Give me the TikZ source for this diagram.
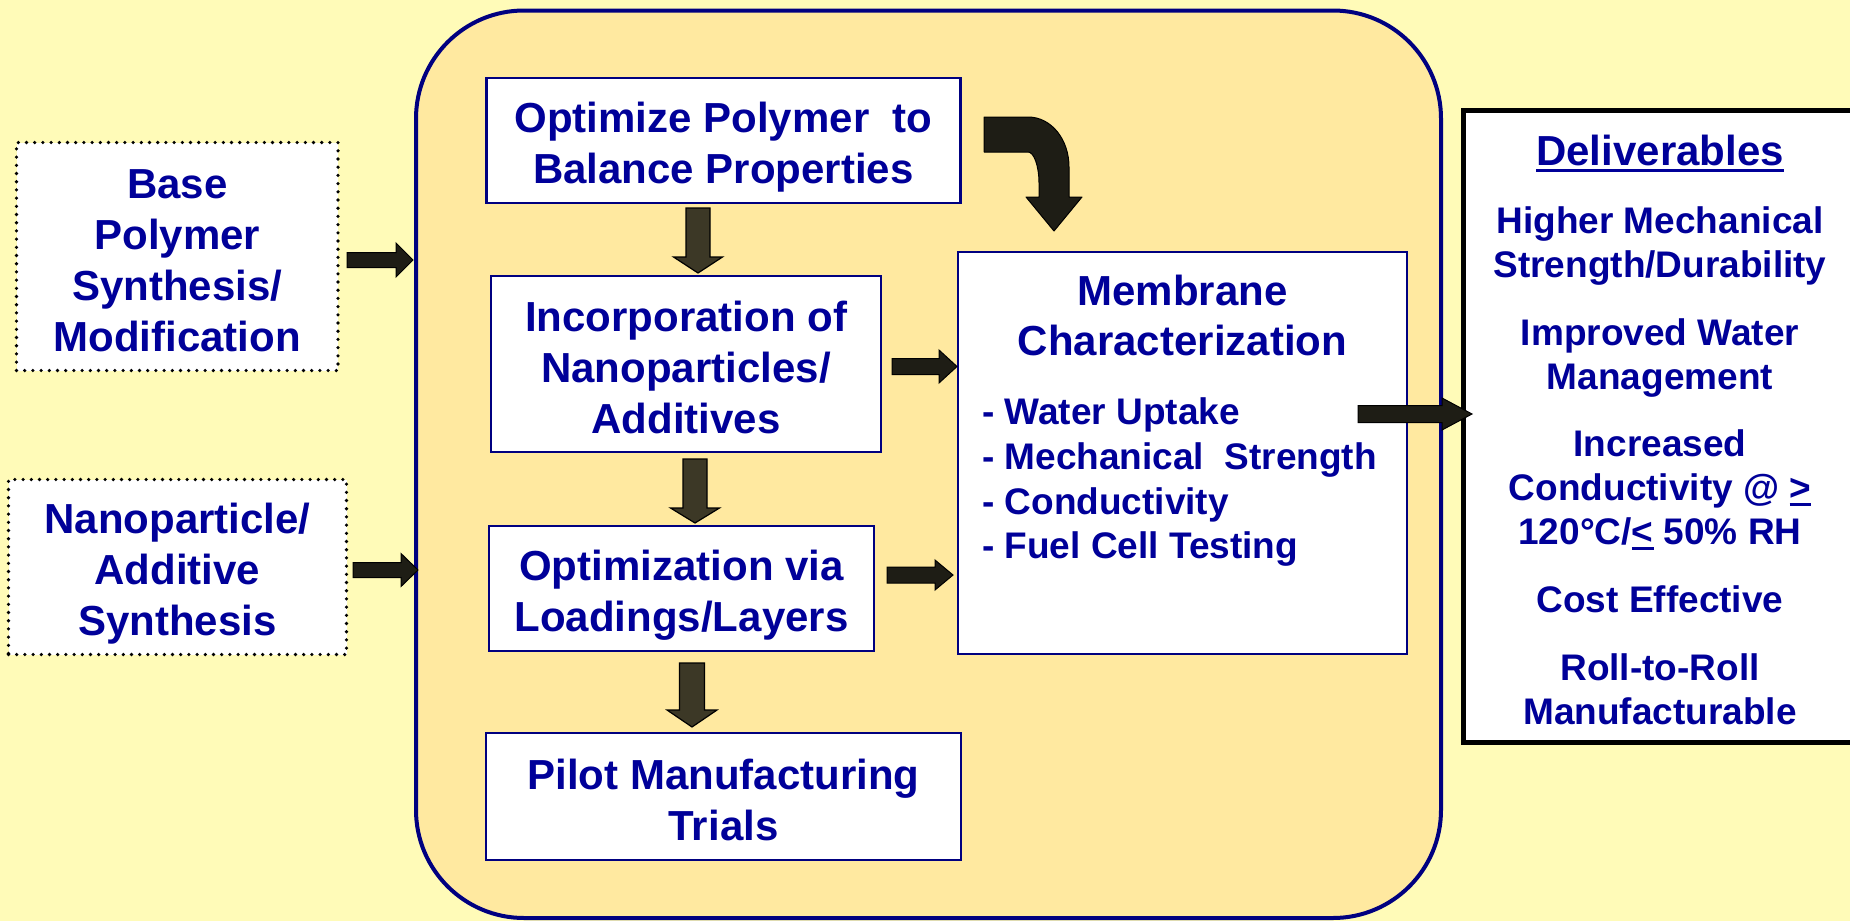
\documentclass[tikz,border=0pt]{standalone}
\usepackage{fontspec}
\setmainfont{Liberation Sans}
\usetikzlibrary{calc}
\definecolor{bgout}{HTML}{FFFBB8}
\definecolor{bgin}{HTML}{FFE9A0}
\definecolor{txt}{HTML}{000099}
\definecolor{boxnavy}{HTML}{000080}
\definecolor{arrowdark}{HTML}{1E1D15}
\definecolor{arrowolive}{HTML}{3C3826}
\newcommand\sA{\rule[-7.5pt]{0pt}{51pt}}
\newcommand\sB{\rule[-10pt]{0pt}{44pt}}
\newcommand\sC{\rule[-10.7pt]{0pt}{44.7pt}}
\newcommand\sT{\rule[-10pt]{0pt}{50pt}}
\newcommand\tightls{\lineskiplimit=-100pt\relax}
\newcommand\ulA[1]{\leavevmode\vtop{\hbox{#1}\kern3pt\hrule height 3.5pt}}
\newcommand\ulB[1]{\leavevmode\vtop{\hbox{#1}\kern2.5pt\hrule height 3pt}}
% horizontal block arrow: start, end, shaft half, head half, head length, style
\newcommand\hblock[6]{%
  \draw[#6] let \p1=(#1), \p2=(#2) in
  (\x1,\y1+#3pt) -- (\x2-#5pt,\y1+#3pt) -- (\x2-#5pt,\y1+#4pt) -- (\x2,\y1)
  -- (\x2-#5pt,\y1-#4pt) -- (\x2-#5pt,\y1-#3pt) -- (\x1,\y1-#3pt) -- cycle;}
% vertical (downward) block arrow
\newcommand\vblock[6]{%
  \draw[#6] let \p1=(#1), \p2=(#2) in
  (\x1-#3pt,\y1) -- (\x1-#3pt,\y2+#5pt) -- (\x1-#4pt,\y2+#5pt) -- (\x1,\y2)
  -- (\x1+#4pt,\y2+#5pt) -- (\x1+#3pt,\y2+#5pt) -- (\x1+#3pt,\y1) -- cycle;}
\tikzset{
  mainfont/.style={font=\fontsize{42}{51}\selectfont\bfseries\tightls},
  flowbox/.style={draw=boxnavy, line width=2.5pt, fill=white, inner sep=0pt,
    align=center, text=txt, mainfont},
  dotbox/.style={draw=black, fill=white, line width=3.6pt, dash pattern=on 0pt off 8.2pt,
    line cap=round, inner sep=0pt, align=center, text=txt, mainfont},
  hdark/.style={fill=arrowdark, draw=black, line width=1pt},
  volive/.style={fill=arrowolive, draw=black, line width=1.2pt},
  deltext/.style={text=txt, inner sep=0pt, align=center, anchor=north,
    font=\fontsize{37}{44}\selectfont\bfseries},
}
\begin{document}
\begin{tikzpicture}[x=1pt,y=-1pt]
\useasboundingbox (0,0) rectangle (1850,921);
\clip (0,0) rectangle (1850,921);
\fill[bgout] (0,0) rectangle (1850,921);

% container
\node[draw=boxnavy, line width=4pt, fill=bgin, rounded corners=108pt,
  minimum width=1025pt, minimum height=907.5pt, inner sep=0pt] (big) at (928.5,464.25) {};

% deliverables box
\node[draw=black, line width=4.5pt, fill=white, inner sep=0pt,
  minimum width=406.5pt, minimum height=632pt] (deliv) at (1666.75,426.5) {};
\node[deltext, font=\fontsize{42}{50}\selectfont\bfseries] (dh) at (1660,125) {\sT\ulA{Deliverables}};
\node[deltext] (g1) at (1660,199) {\sB Higher Mechanical\\\sB Strength/Durability};
\node[deltext] (g2) at (1660,311) {\sB Improved Water\\\sB Management};
\node[deltext] (g3) at (1660,422) {\sB Increased\\\sB Conductivity @ \ulB{>}\\\sB 120°C/\ulB{<} 50\% RH};
\node[deltext] (g4) at (1660,578) {\sB Cost Effective};
\node[deltext] (g5) at (1660,646) {\sB Roll-to-Roll\\\sB Manufacturable};

% left inputs
\node[dotbox, minimum width=321.5pt, minimum height=228pt] (base) at (177.25,256.5)
  {\sA Base\\\sA Polymer\\\sA Synthesis/\\\sA Modification};
\node[dotbox, minimum width=338pt, minimum height=175pt] (nano) at (177.5,567)
  {\sA Nanoparticle/\\\sA Additive\\\sA Synthesis};

% inner flow boxes
\node[flowbox, minimum width=474pt, minimum height=125pt] (opt) at (723.5,140.5)
  {\sA Optimize Polymer\ \ to\\\sA Balance Properties};
\node[flowbox, minimum width=390pt, minimum height=176pt] (inc) at (686,364)
  {\sA Incorporation of\\\sA Nanoparticles/\\\sA Additives};
\node[flowbox, minimum width=385pt, minimum height=125pt] (optim) at (681.5,588.5)
  {\sA Optimization via\\\sA Loadings/Layers};
\node[flowbox, minimum width=475pt, minimum height=127pt] (pilot) at (723.5,796.5)
  {\sA Pilot Manufacturing\\\sA Trials};

% membrane characterization
\node[flowbox, minimum width=449pt, minimum height=402pt] (memb) at (1182.5,453) {};
\node[text=txt, inner sep=0pt, align=center, anchor=north,
  font=\fontsize{42}{50}\selectfont\bfseries] (mt) at (1182.5,265)
  {\sT Membrane\\\sT Characterization};
\node[text=txt, inner sep=0pt, align=left, anchor=north west,
  font=\fontsize{37}{44.7}\selectfont\bfseries] (mb) at (982,390.5)
  {\sC- Water Uptake\\\sC- Mechanical\ \ Strength\\\sC- Conductivity\\\sC- Fuel Cell Testing};

% arrow end points
\coordinate (a1s) at (347,260);   \coordinate (a1e) at (413,260);
\coordinate (a2s) at (353,570);   \coordinate (a2e) at (418,570);
\coordinate (a3s) at (892,366.5); \coordinate (a3e) at (957,366.5);
\coordinate (a4s) at (887,575);   \coordinate (a4e) at (953,575);
\coordinate (a5s) at (1358,414);  \coordinate (a5e) at (1472,414);
\coordinate (d1s) at (698,208);   \coordinate (d1e) at (698,273);
\coordinate (d2s) at (695,459);   \coordinate (d2e) at (695,523);
\coordinate (d3s) at (692,663);   \coordinate (d3e) at (692,727);

\hblock{a1s}{a1e}{7.5}{17}{17}{hdark}
\hblock{a2s}{a2e}{7.5}{16.5}{17}{hdark}
\hblock{a3s}{a3e}{8}{16.5}{18}{hdark}
\hblock{a4s}{a4e}{8}{15}{18}{hdark}
\hblock{a5s}{a5e}{8.5}{16}{30}{hdark}
\vblock{d1s}{d1e}{12}{24.5}{16}{volive}
\vblock{d2s}{d2e}{12}{24.5}{15}{volive}
\vblock{d3s}{d3e}{12.5}{25}{17}{volive}

% curved arrow
\draw[hdark, line join=round] (984,117) -- (1028,117) .. controls (1051,117) and (1069,139) .. (1069,167)
  -- (1069,197) -- (1082,197) -- (1054,231) -- (1026,197) -- (1039,197) -- (1039,183)
  .. controls (1039,166) and (1034,152) .. (1028,152) -- (984,152) -- cycle;
\end{tikzpicture}
\end{document}
